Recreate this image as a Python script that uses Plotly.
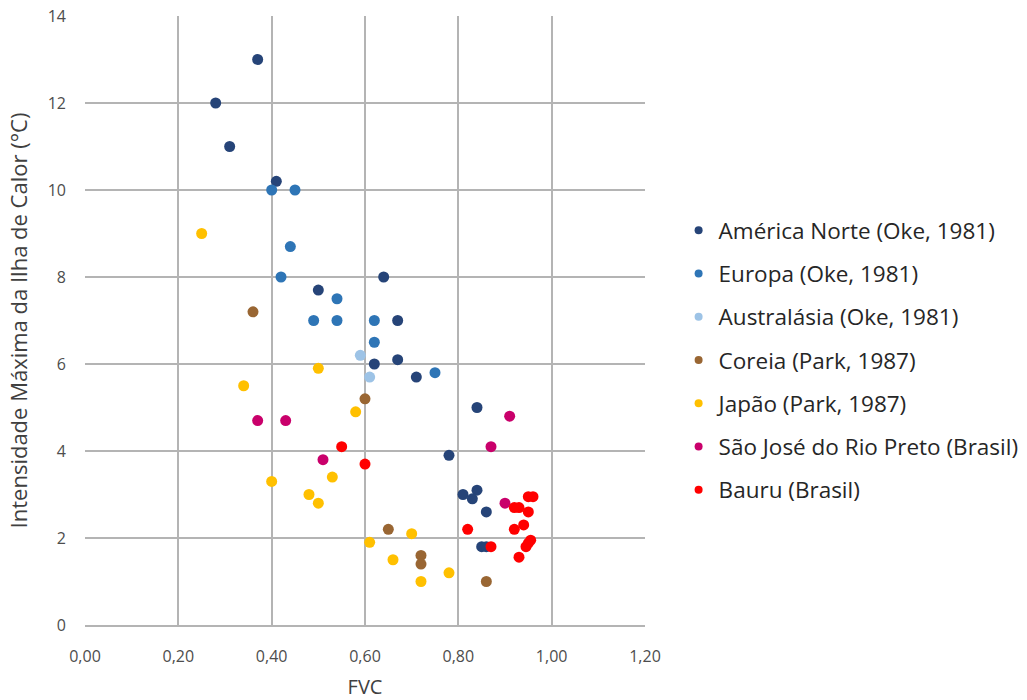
import plotly.graph_objects as go

series_names = [
    "América Norte (Oke, 1981)",
    "Europa (Oke, 1981)",
    "Australásia (Oke, 1981)",
    "Coreia (Park, 1987)",
    "Japão (Park, 1987)",
    "São José do Rio Preto (Brasil)",
    "Bauru (Brasil)",
]

america_x = [0.37, 0.28, 0.31, 0.41, 0.64, 0.50, 0.67, 0.62, 0.67, 0.71, 0.84, 0.78, 0.81, 0.84, 0.83, 0.86, 0.85, 0.86]
america_y = [13.0, 12.0, 11.0, 10.2, 8.0, 7.7, 7.0, 6.0, 6.1, 5.7, 5.0, 3.9, 3.0, 3.1, 2.9, 2.6, 1.8, 1.8]

europa_x = [0.40, 0.45, 0.44, 0.42, 0.54, 0.49, 0.54, 0.62, 0.62, 0.75]
europa_y = [10.0, 10.0, 8.7, 8.0, 7.5, 7.0, 7.0, 7.0, 6.5, 5.8]

australasia_x = [0.59, 0.61]
australasia_y = [6.2, 5.7]

coreia_x = [0.36, 0.60, 0.65, 0.72, 0.72, 0.86]
coreia_y = [7.2, 5.2, 2.2, 1.6, 1.4, 1.0]

japao_x = [0.25, 0.34, 0.50, 0.58, 0.40, 0.53, 0.48, 0.50, 0.70, 0.61, 0.66, 0.78, 0.72]
japao_y = [9.0, 5.5, 5.9, 4.9, 3.3, 3.4, 3.0, 2.8, 2.1, 1.9, 1.5, 1.2, 1.0]

sjrp_x = [0.37, 0.43, 0.51, 0.87, 0.91, 0.90]
sjrp_y = [4.7, 4.7, 3.8, 4.1, 4.8, 2.8]

bauru_x = [0.55, 0.60, 0.82, 0.87, 0.95, 0.96, 0.92, 0.93, 0.95, 0.94, 0.92, 0.955, 0.95, 0.945, 0.93]
bauru_y = [4.1, 3.7, 2.2, 1.8, 2.95, 2.95, 2.7, 2.7, 2.6, 2.3, 2.2, 1.95, 1.88, 1.8, 1.56]

x_ticks = [0, 0.2, 0.4, 0.6, 0.8, 1.0, 1.2]
y_ticks = [0, 2, 4, 6, 8, 10, 12, 14]

colors = ["#264478", "#2E75B6", "#9DC3E6", "#996633", "#FFC000", "#C9006B", "#FF0000"]

data = [
    (america_x, america_y),
    (europa_x, europa_y),
    (australasia_x, australasia_y),
    (coreia_x, coreia_y),
    (japao_x, japao_y),
    (sjrp_x, sjrp_y),
    (bauru_x, bauru_y),
]

fig = go.Figure()
for i, (name, (xs, ys)) in enumerate(zip(series_names, data)):
    fig.add_trace(go.Scatter(
        x=xs, y=ys, mode="markers", name=name,
        legendgroup=f"g{i}", showlegend=False,
        marker=dict(color=colors[i], size=11, line=dict(width=0)),
    ))
# legend entries with smaller symbols (no data)
for i, name in enumerate(series_names):
    fig.add_trace(go.Scatter(
        x=[None], y=[None], mode="markers", name=name,
        legendgroup=f"g{i}", showlegend=True,
        marker=dict(color=colors[i], size=8, line=dict(width=0)),
    ))

font_family = "Open Sans"
grid_color = "#b4b4b4"

fig.update_layout(
    width=1027, height=700,
    paper_bgcolor="white", plot_bgcolor="white",
    separators=",.",
    margin=dict(l=85, r=382, t=16, b=75, autoexpand=False),
    font=dict(family=font_family, color="#404040"),
    showlegend=True,
    legend=dict(
        x=1.06, xanchor="left", y=0.435, yanchor="middle",
        font=dict(size=22.5, color="#262626", family=font_family),
        tracegroupgap=11,
        itemsizing="trace",
        bgcolor="rgba(0,0,0,0)",
    ),
    xaxis=dict(
        range=[0, 1.2], tickvals=x_ticks, tickformat=".2f",
        showgrid=True, gridcolor=grid_color, gridwidth=1.5,
        zeroline=False, showline=True, linecolor=grid_color, linewidth=1.5,
        automargin=False,
        tickfont=dict(size=16, color="#4d4d4d"),
        ticklabelstandoff=16,
        title=dict(text="FVC", font=dict(size=20, color="#404040"), standoff=16),
    ),
    yaxis=dict(
        range=[0, 14], tickvals=y_ticks,
        showgrid=True, gridcolor=grid_color, gridwidth=1.5,
        zeroline=False, showline=False,
        automargin=False,
        tickfont=dict(size=16, color="#4d4d4d"),
        ticklabelstandoff=18,
        title=dict(text="Intensidade Máxima da Ilha de Calor (°C)", font=dict(size=22, color="#404040"), standoff=14),
    ),
)

fig.write_html(
    "out.html",
    config={"displayModeBar": False},
    post_script="document.body.style.margin='0px';",
)
